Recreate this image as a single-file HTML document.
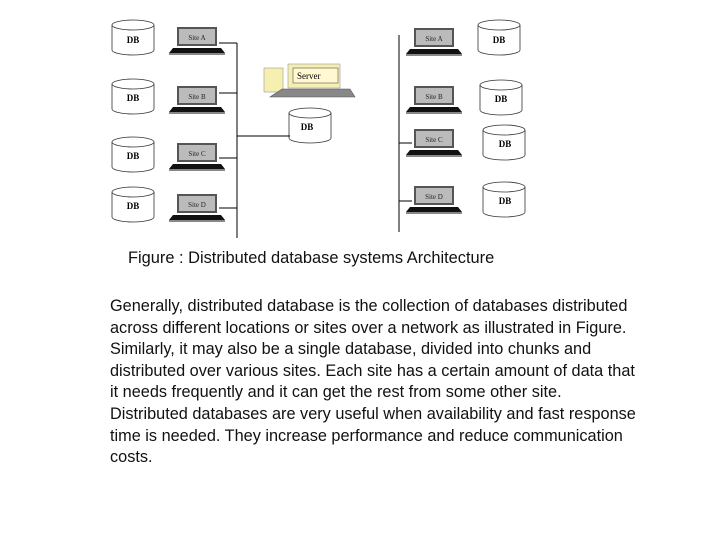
<!DOCTYPE html>
<html><head><style>
body{margin:0;width:720px;height:540px;background:#fff;position:relative;overflow:hidden;font-family:"Liberation Sans",sans-serif}
svg{position:absolute;left:0;top:0}
.t{position:absolute;white-space:nowrap;font-size:16.3px;color:#111}
</style></head><body>
<svg width="720" height="540" viewBox="0 0 720 540">
<defs>
<g id="db"><path d="M0 5 A21 5 0 0 1 42 5 L42 30 A21 5 0 0 1 0 30 Z" fill="#fff" stroke="#333" stroke-width="0.8"/><path d="M0 5 A21 5 0 0 0 42 5" fill="none" stroke="#333" stroke-width="0.8"/></g>
<g id="lap"><rect x="0" y="0" width="40" height="19" fill="#555"/><rect x="2" y="2" width="36" height="15" fill="#bbb"/><path d="M-4 21 L44 21 L48 26 L-8 26 Z" fill="#111"/><rect x="-8" y="26" width="56" height="2" fill="#888"/></g>
</defs>
<g font-family="Liberation Serif,serif" font-size="9" font-weight="bold" text-anchor="middle">
<use href="#db" x="112" y="20"/><text x="133" y="43">DB</text>
<use href="#db" x="112" y="79"/><text x="133" y="101">DB</text>
<use href="#db" x="112" y="137"/><text x="133" y="159">DB</text>
<use href="#db" x="112" y="187"/><text x="133" y="209">DB</text>
<use href="#db" x="289" y="108"/><text x="307" y="130">DB</text>
<use href="#db" x="478" y="20"/><text x="499" y="43">DB</text>
<use href="#db" x="480" y="80"/><text x="501" y="102">DB</text>
<use href="#db" x="483" y="125"/><text x="505" y="147">DB</text>
<use href="#db" x="483" y="182"/><text x="505" y="204">DB</text>
</g>
<g font-family="Liberation Serif,serif" font-size="7" text-anchor="middle" fill="#222">
<use href="#lap" x="177" y="27"/><text x="197" y="40">Site A</text>
<use href="#lap" x="177" y="86"/><text x="197" y="99">Site B</text>
<use href="#lap" x="177" y="143"/><text x="197" y="156">Site C</text>
<use href="#lap" x="177" y="194"/><text x="197" y="207">Site D</text>
<use href="#lap" x="414" y="28"/><text x="434" y="41">Site A</text>
<use href="#lap" x="414" y="86"/><text x="434" y="99">Site B</text>
<use href="#lap" x="414" y="129"/><text x="434" y="142">Site C</text>
<use href="#lap" x="414" y="186"/><text x="434" y="199">Site D</text>
</g>
<g stroke="#000" stroke-width="1" fill="none">
<path d="M237 43V238M219 43H237M219 93H237M219 158H237M219 208H237M237 136H290"/>
<path d="M399 35V232M399 143H412M399 201H412"/>
</g>
<rect x="264" y="68" width="19" height="24" fill="#f6f0b0" stroke="#999" stroke-width="0.6"/>
<rect x="288" y="64" width="52" height="24" fill="#f6f0b0" stroke="#999" stroke-width="0.6"/>
<rect x="293" y="68" width="45" height="15" fill="#fff8d0" stroke="#555" stroke-width="0.6"/>
<text x="297" y="79" font-family="Liberation Serif,serif" font-size="9">Server</text>
<path d="M282 89 L350 89 L355 97 L270 97 Z" fill="#888" stroke="#555" stroke-width="0.6"/>
</svg>
<div class="t" style="left:128px;top:249px;font-size:16.4px">Figure : Distributed database systems Architecture</div>
<div class="t" style="left:110px;top:296px;line-height:21.6px">Generally, distributed database is the collection of databases distributed<br>across different locations or sites over a network as illustrated in Figure.<br>Similarly, it may also be a single database, divided into chunks and<br>distributed over various sites. Each site has a certain amount of data that<br>it needs frequently and it can get the rest from some other site.<br>Distributed databases are very useful when availability and fast response<br>time is needed. They increase performance and reduce communication<br>costs.</div>
</body></html>
